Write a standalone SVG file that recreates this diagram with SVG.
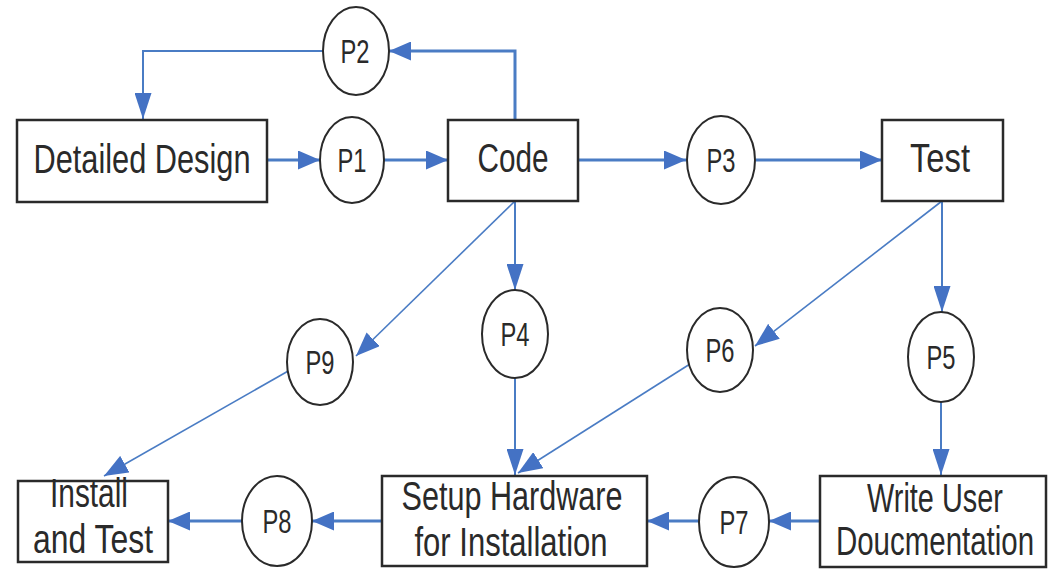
<svg xmlns="http://www.w3.org/2000/svg" width="1053" height="569" viewBox="0 0 1053 569">
<style>
.box{fill:#fff;stroke:#2a2a2a;stroke-width:2.5}
.circ{fill:#fff;stroke:#2a2a2a;stroke-width:2}
.bl{font-family:"Liberation Sans",Arial,sans-serif;font-size:40px;fill:#2a2a2a;text-anchor:middle}
.cl{font-family:"Liberation Sans",Arial,sans-serif;font-size:34px;fill:#2a2a2a;text-anchor:middle}
.h{fill:none;stroke:#4a7cc4;stroke-width:3;marker-end:url(#ah)}
.v{fill:none;stroke:#4a7cc4;stroke-width:2;marker-end:url(#av)}
.d{fill:none;stroke:#4a7cc4;stroke-width:1.6;marker-end:url(#ad)}
</style>
<defs>
<marker id="ah" markerUnits="userSpaceOnUse" markerWidth="23" markerHeight="19" refX="22" refY="9.5" orient="auto"><path d="M0,0 L22,9.5 L0,19 z" fill="#4472c4"/></marker>
<marker id="av" markerUnits="userSpaceOnUse" markerWidth="27" markerHeight="17" refX="26" refY="8.5" orient="auto"><path d="M0,0 L26,8.5 L0,17 z" fill="#4472c4"/></marker>
<marker id="ad" markerUnits="userSpaceOnUse" markerWidth="25" markerHeight="19" refX="24" refY="9.5" orient="auto"><path d="M0,0 L24,9.5 L0,19 z" fill="#4472c4"/></marker>
</defs>
<rect width="1053" height="569" fill="#fff"/>
<g id="connectors">
<path class="h" d="M515,119 V51 H389"/>
<path class="v" d="M323,51 H143 V119"/>
<path class="h" d="M267,160 H320"/>
<path class="h" d="M384,160 H448"/>
<path class="h" d="M578,160 H686"/>
<path class="h" d="M756,160 H882"/>
<path class="v" d="M515,201 V290"/>
<path class="d" d="M515,201 L356,356"/>
<path class="v" d="M515,378 V475"/>
<path class="v" d="M942,201 V312"/>
<path class="d" d="M942,201 L755,346"/>
<path class="d" d="M690,364 L518,473"/>
<path class="d" d="M290,370 L104,476"/>
<path class="v" d="M941,402 V475"/>
<path class="h" d="M820,521 H769"/>
<path class="h" d="M699,521 H647"/>
<path class="h" d="M382,521 H312"/>
<path class="h" d="M242,521 H168"/>
</g>
<g id="detailed-design"><rect class="box" x="17" y="120" width="250" height="82"/><text class="bl" x="142" y="173" textLength="217" lengthAdjust="spacingAndGlyphs">Detailed Design</text></g>
<g id="code"><rect class="box" x="448" y="120" width="130" height="81"/><text class="bl" x="513" y="172" textLength="71" lengthAdjust="spacingAndGlyphs">Code</text></g>
<g id="test"><rect class="box" x="882" y="120" width="121" height="81"/><text class="bl" x="940" y="172" textLength="60" lengthAdjust="spacingAndGlyphs">Test</text></g>
<g id="install-and-test"><rect class="box" x="18" y="481" width="150" height="81"/><text class="bl" x="89" y="507" textLength="78" lengthAdjust="spacingAndGlyphs">Install</text><text class="bl" x="93" y="553" textLength="120" lengthAdjust="spacingAndGlyphs">and Test</text></g>
<g id="setup-hardware"><rect class="box" x="382" y="476" width="265" height="90"/><text class="bl" x="512" y="510" textLength="221" lengthAdjust="spacingAndGlyphs">Setup Hardware</text><text class="bl" x="511" y="556" textLength="193" lengthAdjust="spacingAndGlyphs">for Installation</text></g>
<g id="write-user"><rect class="box" x="820" y="476" width="226" height="91"/><text class="bl" transform="translate(935,0) scale(0.7,1)" x="0" y="512" textLength="194" lengthAdjust="spacingAndGlyphs">Write User</text><text class="bl" transform="translate(935,0) scale(0.7,1)" x="0" y="555" textLength="283" lengthAdjust="spacingAndGlyphs">Doucmentation</text></g>
<g id="p1"><ellipse class="circ" cx="352" cy="160" rx="32" ry="43"/><text class="cl" x="352" y="172" textLength="29" lengthAdjust="spacingAndGlyphs">P1</text></g>
<g id="p2"><ellipse class="circ" cx="356" cy="51" rx="33" ry="44"/><text class="cl" x="355" y="63" textLength="29" lengthAdjust="spacingAndGlyphs">P2</text></g>
<g id="p3"><ellipse class="circ" cx="721" cy="160" rx="34" ry="44"/><text class="cl" x="721" y="172" textLength="29" lengthAdjust="spacingAndGlyphs">P3</text></g>
<g id="p4"><ellipse class="circ" cx="515" cy="334" rx="33" ry="44"/><text class="cl" x="515" y="346" textLength="29" lengthAdjust="spacingAndGlyphs">P4</text></g>
<g id="p5"><ellipse class="circ" cx="941" cy="357" rx="33" ry="45"/><text class="cl" x="941" y="369" textLength="29" lengthAdjust="spacingAndGlyphs">P5</text></g>
<g id="p6"><ellipse class="circ" cx="720" cy="350" rx="33" ry="42"/><text class="cl" x="720" y="362" textLength="29" lengthAdjust="spacingAndGlyphs">P6</text></g>
<g id="p7"><ellipse class="circ" cx="734" cy="522" rx="35" ry="45"/><text class="cl" x="734" y="534" textLength="29" lengthAdjust="spacingAndGlyphs">P7</text></g>
<g id="p8"><ellipse class="circ" cx="277" cy="521" rx="35" ry="45"/><text class="cl" x="277" y="533" textLength="29" lengthAdjust="spacingAndGlyphs">P8</text></g>
<g id="p9"><ellipse class="circ" cx="320" cy="362" rx="33" ry="43"/><text class="cl" x="320" y="374" textLength="29" lengthAdjust="spacingAndGlyphs">P9</text></g>
</svg>
